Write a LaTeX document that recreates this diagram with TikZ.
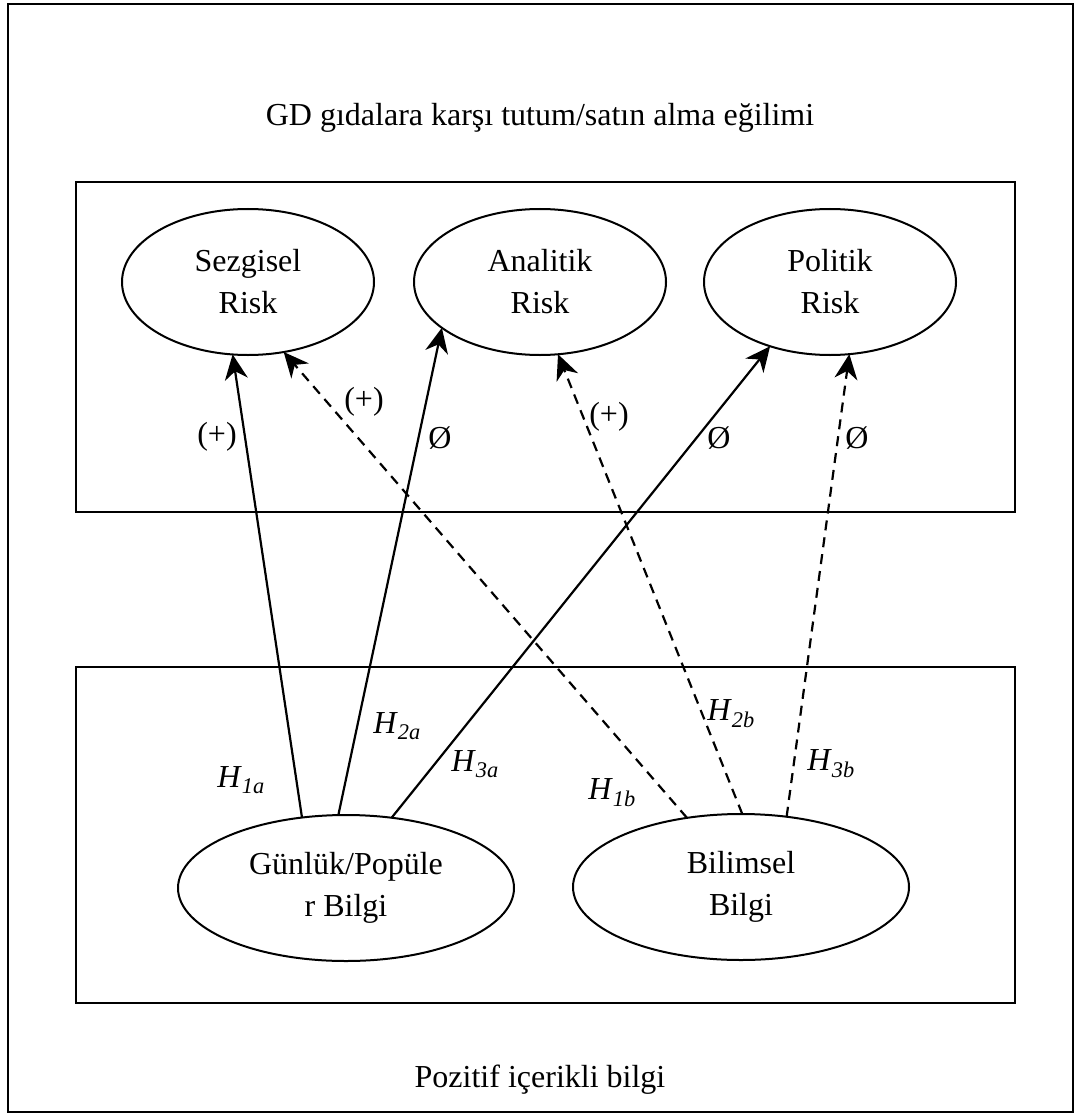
\documentclass[tikz,border=0pt]{standalone}
\usepackage{fontspec}
\setmainfont{Liberation Serif}
\usetikzlibrary{arrows.meta,shapes.geometric}
\newcommand\hyp[1]{\textit{H}\textsubscript{\textit{#1}}}
\begin{document}
\begin{tikzpicture}[x=1pt,y=-1pt,
  every node/.style={font=\fontsize{32}{42}\selectfont},
  oval/.style={ellipse,draw,line width=2pt,minimum width=252pt,minimum height=146pt,inner sep=0pt,outer sep=0pt,align=center},
  lowoval/.style={oval,minimum width=336pt},
  boxline/.style={draw,line width=2pt},
  solidarrow/.style={line width=2.2pt,-{Stealth[length=25pt,width=23pt,inset=8pt]}},
  dasharrow/.style={solidarrow,dash pattern=on 10pt off 7pt},
  lbl/.style={inner sep=0pt}]
\useasboundingbox (0,0) rectangle (1077,1115);
\draw[line width=2.5pt] (8,4) rectangle (1073,1112);
\draw[boxline] (76,182) rectangle (1015,512);
\draw[boxline] (76,667) rectangle (1015,1003);
\node (title) at (540,118) {GD gıdalara karşı tutum/satın alma eğilimi};
\node (bottomtext) at (540,1080) {Pozitif içerikli bilgi};
\node[oval] (sz) at (248,282) {Sezgisel\\Risk};
\node[oval] (an) at (540,282) {Analitik\\Risk};
\node[oval] (po) at (830,282) {Politik\\Risk};
\node[lowoval] (g) at (346,888) {Günlük/Popüle\\r Bilgi};
\node[lowoval] (b) at (741,887) {Bilimsel\\Bilgi};
\draw[solidarrow] (g.122) -- (sz.258);
\draw[solidarrow] (g.96) -- (an.205);
\draw[solidarrow] (g.57) -- (po.227);
\draw[dasharrow] (b.128) -- (sz.297);
\draw[dasharrow] (b.89) -- (an.284);
\draw[dasharrow] (b.57.6) -- (po.285);
\node[lbl] (l1) at (217,437) {(+)};
\node[lbl] (l2) at (364,402) {(+)};
\node[lbl] (l3) at (440,438) {Ø};
\node[lbl] (l4) at (609,417) {(+)};
\node[lbl] (l5) at (719,438) {Ø};
\node[lbl] (l6) at (857,438) {Ø};
\node[lbl] (h1a) at (241,780) {\hyp{1a}};
\node[lbl] (h2a) at (397,726) {\hyp{2a}};
\node[lbl] (h3a) at (475,764) {\hyp{3a}};
\node[lbl] (h1b) at (612,793) {\hyp{1b}};
\node[lbl] (h2b) at (731,714) {\hyp{2b}};
\node[lbl] (h3b) at (831,764) {\hyp{3b}};
\end{tikzpicture}
\end{document}
